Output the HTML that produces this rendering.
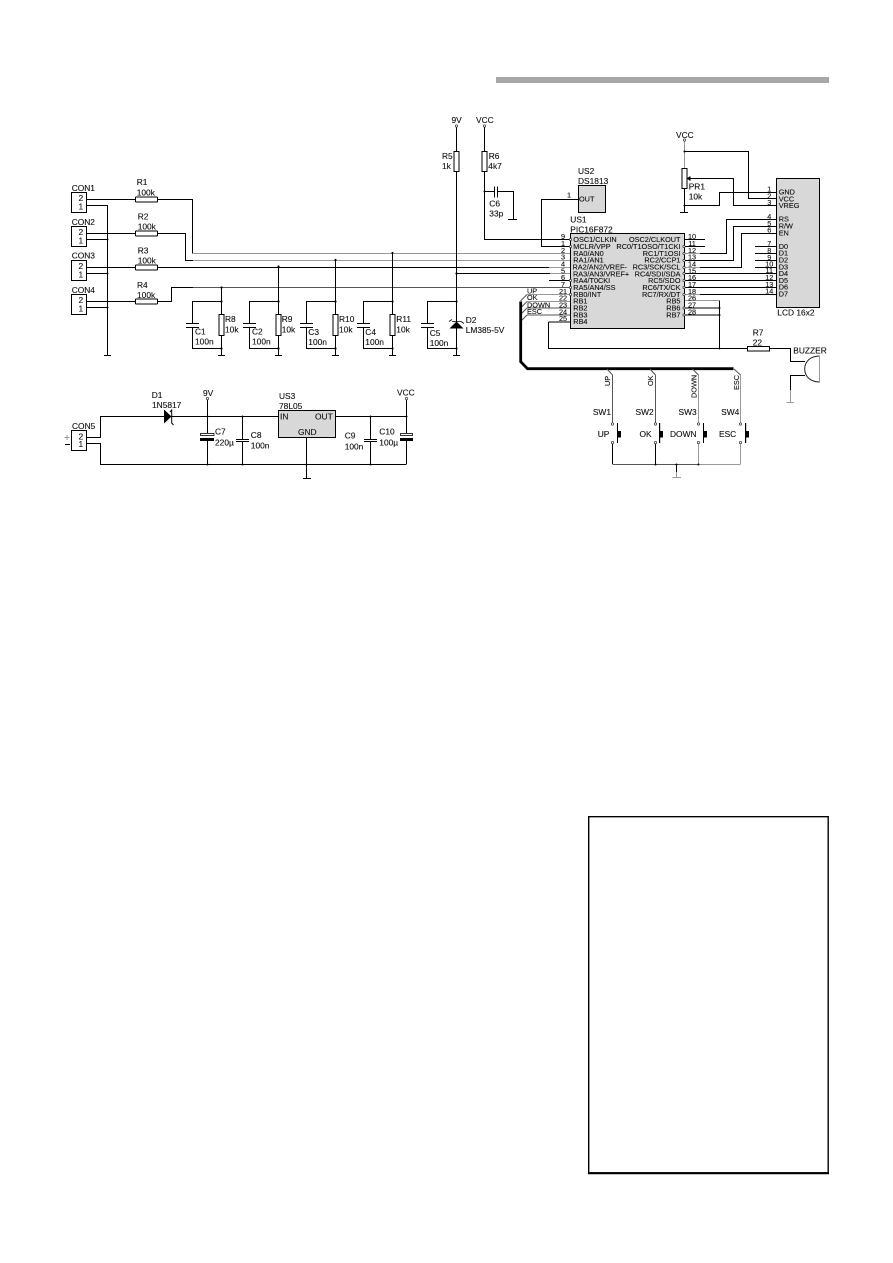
<!DOCTYPE html>
<html><head><meta charset="utf-8"><style>
html,body{margin:0;padding:0;background:#fff;width:893px;height:1263px;overflow:hidden}
svg{display:block}
text{font-family:"Liberation Sans",sans-serif;fill:#111;stroke:#111;stroke-width:.12px;font-size:8.4px}
.s text,text.s{font-size:7.3px}
.w{fill:none;stroke:#000;stroke-width:1;shape-rendering:crispEdges}
.g{fill:none;stroke:#999;stroke-width:1;shape-rendering:crispEdges}
.d{fill:none;stroke:#555;stroke-width:1;shape-rendering:crispEdges}
.b{fill:#fff;stroke:#000;stroke-width:1;shape-rendering:crispEdges}
.c{fill:#d8d8d8;stroke:#000;stroke-width:1;shape-rendering:crispEdges}
.o{fill:#fff;stroke:#333;stroke-width:.7}
</style></head><body>
<svg width="893" height="1263" viewBox="0 0 893 1263" xmlns="http://www.w3.org/2000/svg">
<rect x="496" y="77" width="333" height="6" fill="#a8a8a8"/>
<path d="M588.7 816.7H828.2V1172.8H588.7Z" fill="#fff" stroke="#000" stroke-width="1.4"/>
<path d="M588 1173.2H829" stroke="#000" stroke-width="2" fill="none"/>

<!-- connectors left -->
<rect class="b" x="71.5" y="192.5" width="15" height="20"/>
<rect class="b" x="71.5" y="226.5" width="15" height="20"/>
<rect class="b" x="71.5" y="260.5" width="15" height="20"/>
<rect class="b" x="71.5" y="294.5" width="15" height="20"/>
<path class="w" d="M86.5 199.5H192.5V253.5M86.5 233.5H185.5V260.5H193M86.5 267.5H549M86.5 301.5H171.5V287.5H193M86.5 205.5H107.5V355.5M86.5 239.5H107.5M86.5 273.5H107.5M86.5 307.5H107.5M104 355.5H111"/>
<path class="g" d="M192.5 253.5H570M193 260.5H570M549 267.5H570"/>
<path class="d" d="M193 287.5H570"/>
<!-- R1-4 -->
<rect class="b" x="135.5" y="197" width="22" height="5" rx="1"/>
<rect class="b" x="135.5" y="231" width="22" height="5" rx="1"/>
<rect class="b" x="135.5" y="265" width="22" height="5" rx="1"/>
<rect class="b" x="135.5" y="299" width="22" height="5" rx="1"/>
<!-- RC columns -->
<path class="w" d="M221.5 287.5V355.5M218 355.5H225M192.5 323.5V301.5H221.5M192.5 327.5V348.5H221.5M186 323.5H199M186 327.5H199
M278.5 266V355.5M275 355.5H282M249.5 323.5V301.5H278.5M249.5 327.5V348.5H278.5M243 323.5H256M243 327.5H256
M335.5 260V355.5M332 355.5H339M306.5 323.5V301.5H335.5M306.5 327.5V348.5H335.5M300 323.5H313M300 327.5H313
M392.5 253V355.5M389 355.5H396M363.5 323.5V301.5H392.5M363.5 327.5V348.5H392.5M357 323.5H370M357 327.5H370
M456.5 127V355.5M453 355.5H460M427.5 323.5V301.5H456.5M427.5 327.5V348.5H456.5M421 323.5H434M421 327.5H434
M456.5 273.5H550"/>
<path class="g" d="M550 273.5H570"/>
<rect class="b" x="219" y="314.5" width="5" height="21"/>
<rect class="b" x="276" y="314.5" width="5" height="21"/>
<rect class="b" x="333" y="314.5" width="5" height="21"/>
<rect class="b" x="390" y="314.5" width="5" height="21"/>
<rect class="b" x="454" y="151.5" width="5" height="20"/>
<g fill="#000">
<path d="M449.5 328.5H463.5L456.5 321.5Z"/>
<path d="M449 321.5L452 319.5M452 321.5H461M461 321.5L464 323.5" stroke="#000" stroke-width=".8"/>
<circle cx="221.5" cy="287.5" r="1.1"/><circle cx="221.5" cy="301.5" r="1.1"/><circle cx="221.5" cy="348.5" r="1.1"/>
<circle cx="278.5" cy="266.5" r="1.1"/><circle cx="278.5" cy="301.5" r="1.1"/><circle cx="278.5" cy="348.5" r="1.1"/>
<circle cx="335.5" cy="260" r="1.1"/><circle cx="335.5" cy="301.5" r="1.1"/><circle cx="335.5" cy="348.5" r="1.1"/>
<circle cx="392.5" cy="253" r="1.1"/><circle cx="392.5" cy="301.5" r="1.1"/><circle cx="392.5" cy="348.5" r="1.1"/>
<circle cx="456.5" cy="273.5" r="1.1"/><circle cx="456.5" cy="301.5" r="1.1"/><circle cx="456.5" cy="348.5" r="1.1"/>
<circle cx="107.5" cy="239.5" r="1"/><circle cx="107.5" cy="273.5" r="1"/><circle cx="107.5" cy="307.5" r="1"/>
<circle cx="484.5" cy="191.5" r="1"/>
</g>
<circle class="o" cx="456.5" cy="126" r="1.2"/>
<circle class="o" cx="484.5" cy="126" r="1.2"/>
<!-- R6 C6 -->
<path class="w" d="M484.5 127V239.5H570M484.5 191.5H494M497 191.5H513.5V219M508 219.5H517M494.5 186.5V197.5M497.5 186.5V197.5"/>
<rect class="b" x="482" y="151.5" width="5" height="20"/>
<!-- US2 -->
<rect class="c" x="578.5" y="185.5" width="27" height="27"/>
<path class="w" d="M578 199.5H541.5V246.5H570"/>
<!-- US1 -->
<rect class="c" x="570.5" y="233.5" width="114" height="95"/>
<path class="w" d="M549 280.5H570M548.5 322V348.5H747M570 322H548.5"/>
<path class="g" d="M527 294.5H570M527 301.5H570"/>
<path class="d" d="M527 308H570M527 315H570M520.5 301L527 294.5M520.5 308L527 301.5M520.5 314.5L527 308M520.5 321.5L527 315" style="shape-rendering:auto"/>
<path d="M520.7 301.5V361.7L527.5 368.7H733.5" fill="none" stroke="#000" stroke-width="2.8"/>
<!-- right pins -->
<path class="w" d="M685 239.5H705M685 246.5H705M700 253.5H726.5V219.5H776M685 260.5H733.5V226.5H776M700 267.5H741.5V233.5H776M685 273.5H776M685 280.5H776M685 287.5H776M700 294.5H776M685 308H719.5M685 315H719.5M719.5 300.5V348.5M755 246.5H776M755 253.5H776M755 260.5H776M755 267.5H776"/>
<path class="g" d="M685 253.5H700M685 267.5H700M685 294.5H700M685 300.5H719.5"/>
<g fill="#000"><circle cx="719.5" cy="308" r="1"/><circle cx="719.5" cy="315" r="1"/><circle cx="719.5" cy="348.5" r="1"/></g>
<g class="o">
<circle cx="570.5" cy="239.5" r="1.1"/><circle cx="570.5" cy="246.5" r="1.1"/><circle cx="570.5" cy="280.5" r="1.1"/><circle cx="570.5" cy="287.5" r="1.1"/><circle cx="570.5" cy="294.5" r="1.1"/>
<circle cx="684" cy="246.5" r="1.1"/><circle cx="684" cy="253.5" r="1.1"/><circle cx="684" cy="260.5" r="1.1"/><circle cx="684" cy="267.5" r="1.1"/><circle cx="684" cy="273.5" r="1.1"/><circle cx="684" cy="280.5" r="1.1"/><circle cx="684" cy="287.5" r="1.1"/><circle cx="684" cy="294.5" r="1.1"/><circle cx="684" cy="308" r="1.1"/><circle cx="684" cy="315" r="1.1"/>
</g>
<!-- LCD + PR1 -->
<rect class="c" x="776.5" y="178.5" width="43" height="129"/>
<path class="w" d="M684.5 151.5H748.5V198.5H776M690 178.5H733.5V205.5H776M684.5 205.5H719.5V192.5H776M684.5 188V212.5M680 212.5H688"/>
<path class="g" d="M684.5 141V168"/>
<rect class="b" x="682" y="168.5" width="5" height="20"/>
<path d="M686.5 178.5L690.5 176V181Z" fill="#000"/>
<circle class="o" cx="684.5" cy="140" r="1.2"/>
<circle cx="684.5" cy="151.5" r="1" fill="#000"/><circle cx="684.5" cy="205.5" r="1" fill="#000"/>
<!-- R7 buzzer -->
<path class="w" d="M770 348.5H790.5V361.5H805M805 375.5H790.5V390"/>
<path class="g" d="M790.5 390V402.5M786.5 402.5H794"/>
<rect class="b" x="747.5" y="346.5" width="22" height="4.5"/>
<path d="M819.7 356C811 356 804.7 361 804.7 369C804.7 377 811 382 819.7 382" fill="none" stroke="#222" stroke-width="1"/>
<path class="g" d="M819.7 356V382"/>
<!-- switch branches -->
<path d="M607 369L612.5 375M650 369L655.5 375M692.5 369L698.5 375M734 369L740.5 375" stroke="#555" stroke-width="1" fill="none"/>
<path class="d" d="M612.5 375V423M655.5 375V423"/>
<path class="g" d="M698.5 375V423M740.5 375V423M698.5 443V464M740.5 443V464M676.5 472V477.5M672.5 477.5H681"/>
<path class="w" d="M612.5 443V464M655.5 443V464"/>
<path class="g" d="M612.5 464.5H740.5"/>
<path class="d" d="M612.5 464.5H698.5"/>
<path class="w" d="M676.5 464.5V472"/>
<g fill="#000">
<rect x="617" y="423" width="1" height="20"/><rect x="618" y="431" width="3" height="6.5"/>
<rect x="659" y="423" width="1.2" height="20"/><rect x="660" y="431" width="3" height="6.5"/>
<rect x="703" y="423" width="1" height="20"/><rect x="704" y="431" width="3" height="6.5"/>
<rect x="745" y="423" width="1.2" height="20"/><rect x="746" y="431" width="3" height="6.5"/>
<circle cx="655.5" cy="464.5" r="1"/><circle cx="676.5" cy="464.5" r="1"/><circle cx="698.5" cy="464.5" r="1"/>
</g>
<g class="o">
<circle cx="612.5" cy="424" r="1.2"/><circle cx="655.5" cy="424" r="1.2"/><circle cx="698.5" cy="424" r="1.2"/><circle cx="740.5" cy="424" r="1.2"/>
<circle cx="612.5" cy="442.5" r="1.2"/><circle cx="655.5" cy="442.5" r="1.2"/><circle cx="698.5" cy="442.5" r="1.2"/><circle cx="740.5" cy="442.5" r="1.2"/>
</g>

<!-- lower supply -->
<rect class="b" x="71.5" y="430.5" width="15" height="20"/>
<path class="w" d="M86.5 437.5H100.5V416.5H278M86.5 443.5H100.5V464.5H406.5M207.5 399V433M207.5 441V464M242.5 416.5V439M242.5 442V464M306.5 437V478.5M303 478.5H311M335 416.5H406.5V433M406.5 399V416.5M406.5 441V464M370.5 416.5V439M370.5 442V464M236 439.5H249M236 441.5H249M364 439.5H377M364 441.5H377M65 444.5H70"/>
<path class="g" d="M64.5 437.5H69.5M67 435V440"/>
<path d="M164 409.5L171.5 416.5L164 423.5Z" fill="#000"/>
<path d="M170 412L171.7 410V423L173.5 425" fill="none" stroke="#000" stroke-width="1"/>
<rect x="200.5" y="433.5" width="13.5" height="2" fill="#fff" stroke="#000" stroke-width=".8"/>
<rect x="200" y="438" width="14" height="3" fill="#000"/>
<rect x="400.5" y="433.5" width="12" height="2" fill="#fff" stroke="#000" stroke-width=".8"/>
<rect x="400" y="438" width="13" height="3" fill="#000"/>
<rect class="c" x="278.5" y="410.5" width="57" height="27"/>
<g fill="#000"><circle cx="207.5" cy="416.5" r="1"/><circle cx="207.5" cy="464.5" r="1"/><circle cx="242.5" cy="416.5" r="1"/><circle cx="242.5" cy="464.5" r="1"/><circle cx="306.5" cy="464.5" r="1"/><circle cx="370.5" cy="416.5" r="1"/><circle cx="370.5" cy="464.5" r="1"/><circle cx="406.5" cy="416.5" r="1"/></g>
<circle class="o" cx="207.5" cy="398.5" r="1.2"/>
<circle class="o" cx="406.5" cy="398.5" r="1.2"/>

<!-- labels -->
<text x="71.7" y="191">CON1</text><text x="71.7" y="225">CON2</text><text x="71.7" y="258.5">CON3</text><text x="71.7" y="293">CON4</text>
<text x="78.5" y="201">2</text><text x="78.5" y="209.5">1</text>
<text x="78.5" y="235">2</text><text x="78.5" y="243.5">1</text>
<text x="78.5" y="269">2</text><text x="78.5" y="277.5">1</text>
<text x="78.5" y="303">2</text><text x="78.5" y="311.5">1</text>
<text x="136.7" y="185">R1</text><text x="136.7" y="195.3">100k</text>
<text x="137.7" y="219.3">R2</text><text x="137.7" y="229.3">100k</text>
<text x="137.7" y="253.7">R3</text><text x="137.7" y="263.3">100k</text>
<text x="137" y="288">R4</text><text x="137" y="298">100k</text>
<text x="225" y="322">R8</text><text x="225" y="332.7">10k</text>
<text x="281.7" y="322">R9</text><text x="281.7" y="332.7">10k</text>
<text x="339" y="322">R10</text><text x="339" y="332.7">10k</text>
<text x="396.3" y="322">R11</text><text x="396.3" y="332.7">10k</text>
<text x="195" y="334.7">C1</text><text x="195" y="344.7">100n</text>
<text x="252" y="334.7">C2</text><text x="252" y="344.7">100n</text>
<text x="308.3" y="335">C3</text><text x="308.3" y="345">100n</text>
<text x="365.3" y="335">C4</text><text x="365.3" y="345">100n</text>
<text x="429.7" y="336">C5</text><text x="429.7" y="346">100n</text>
<text x="465.7" y="323">D2</text><text x="465.7" y="333">LM385-5V</text>
<text x="442" y="159">R5</text><text x="442" y="169">1k</text>
<text x="488.7" y="159">R6</text><text x="488.3" y="169">4k7</text>
<text x="451.5" y="123">9V</text><text x="476" y="123">VCC</text>
<text x="489.3" y="206.3">C6</text><text x="489.3" y="216.3">33p</text>
<text x="578" y="174">US2</text><text x="578" y="184">DS1813</text>
<text x="570.3" y="222.3">US1</text><text x="570.3" y="232.3">PIC16F872</text>
<text class="s" x="579" y="201.7">OUT</text><text class="s" x="567" y="197.5">1</text>
<text x="676" y="138">VCC</text>
<text x="688.7" y="189.7">PR1</text><text x="688.7" y="199.7">10k</text>
<text x="777.3" y="315.3">LCD 16x2</text>
<text x="752.7" y="335.3">R7</text><text x="752.7" y="345.3">22</text>
<text x="793.3" y="353.7">BUZZER</text>
<text x="597.7" y="437">UP</text><text x="639.5" y="437">OK</text><text x="670" y="437">DOWN</text><text x="719" y="437">ESC</text>
<text x="611" y="415" text-anchor="end">SW1</text><text x="653.7" y="415" text-anchor="end">SW2</text><text x="696.7" y="415" text-anchor="end">SW3</text><text x="739.3" y="415" text-anchor="end">SW4</text>
<text x="151.7" y="398">D1</text><text x="152" y="408">1N5817</text>
<text x="72" y="429">CON5</text><text x="78.5" y="439.5">2</text><text x="78.5" y="447">1</text>
<text x="203" y="396">9V</text><text x="397" y="395.7">VCC</text>
<text x="215" y="434.7">C7</text><text x="215" y="445.3">220µ</text>
<text x="250.8" y="438">C8</text><text x="250.8" y="448.7">100n</text>
<text x="344.7" y="438.7">C9</text><text x="344.7" y="449.3">100n</text>
<text x="379.3" y="434.7">C10</text><text x="379.3" y="445.3">100µ</text>
<text x="279" y="399">US3</text><text x="279" y="409">78L05</text>
<text x="280" y="419.7">IN</text><text x="332.7" y="419.7" text-anchor="end">OUT</text><text x="307.3" y="435" text-anchor="middle">GND</text>

<g class="s">
<text x="573.3" y="242">OSC1/CLKIN</text><text x="573.3" y="249">MCLR/VPP</text><text x="573.3" y="255.8">RA0/AN0</text><text x="573.3" y="262.7">RA1/AN1</text><text x="572.5" y="269.5">RA2/AN2/VREF-</text><text x="573" y="276.3">RA3/AN3/VREF+</text><text x="573.3" y="283.2">RA4/T0CKI</text><text x="573.3" y="290">RA5/AN4/SS</text><text x="573.3" y="296.8">RB0/INT</text><text x="573.3" y="303.7">RB1</text><text x="573.3" y="310.5">RB2</text><text x="573.3" y="317.3">RB3</text><text x="573.3" y="324.2">RB4</text>
<g text-anchor="end">
<text x="680.5" y="242">OSC2/CLKOUT</text><text x="680.5" y="249">RC0/T1OSO/T1CKI</text><text x="680.5" y="255.8">RC1/T1OSI</text><text x="680.5" y="262.7">RC2/CCP1</text><text x="680.5" y="269.5">RC3/SCK/SCL</text><text x="680.5" y="276.3">RC4/SDI/SDA</text><text x="680.5" y="283.2">RC5/SDO</text><text x="680.5" y="290">RC6/TX/CK</text><text x="680.5" y="296.8">RC7/RX/DT</text><text x="680.5" y="303.7">RB5</text><text x="680.5" y="310.5">RB6</text><text x="680.5" y="317.3">RB7</text>
</g>
<g text-anchor="middle">
<text x="563" y="239">9</text><text x="563" y="246">1</text><text x="563" y="252.8">2</text><text x="563" y="259.7">3</text><text x="563" y="266.5">4</text><text x="563" y="273.3">5</text><text x="563" y="280.2">6</text><text x="563" y="287">7</text><text x="563" y="293.8">21</text><text x="563" y="300.7">22</text><text x="563" y="307.5">23</text><text x="563" y="314.3">24</text><text x="563" y="321.2">25</text>
<text x="692" y="239">10</text><text x="692" y="246">11</text><text x="692" y="252.8">12</text><text x="692" y="259.7">13</text><text x="692" y="266.5">14</text><text x="692" y="273.3">15</text><text x="692" y="280.2">16</text><text x="692" y="287">17</text><text x="692" y="293.8">18</text><text x="692" y="300.7">26</text><text x="692" y="307.5">27</text><text x="692" y="314.3">28</text>
<text x="769.3" y="191.5">1</text><text x="769.3" y="198.5">2</text><text x="769.3" y="205">3</text><text x="769.3" y="219">4</text><text x="769.3" y="226">5</text><text x="769.3" y="232.5">6</text><text x="769.3" y="246">7</text><text x="769.3" y="253">8</text><text x="769.3" y="260">9</text><text x="769.3" y="266.5">10</text><text x="769.3" y="273">11</text><text x="769.3" y="280">12</text><text x="769.3" y="287">13</text><text x="769.3" y="293.5">14</text>
</g>
<text x="778.7" y="194.3">GND</text><text x="778.7" y="201.3">VCC</text><text x="778.7" y="208">VREG</text><text x="778.7" y="221.6">RS</text><text x="778.7" y="228.6">R/W</text><text x="778.7" y="235.3">EN</text><text x="778.7" y="249">D0</text><text x="778.7" y="255.7">D1</text><text x="778.7" y="262.6">D2</text><text x="778.7" y="269.4">D3</text><text x="778.7" y="276">D4</text><text x="778.7" y="282.8">D5</text><text x="778.7" y="289.7">D6</text><text x="778.7" y="296.4">D7</text>
<text x="527" y="293.3">UP</text><text x="527" y="300">OK</text><text x="527" y="307.3">DOWN</text><text x="527" y="314">ESC</text>
<text transform="translate(610.2 386) rotate(-90)">UP</text>
<text transform="translate(653.2 386) rotate(-90)">OK</text>
<text transform="translate(696.5 398) rotate(-90)">DOWN</text>
<text transform="translate(739.2 390) rotate(-90)">ESC</text>
</g>
</svg>
</body></html>
